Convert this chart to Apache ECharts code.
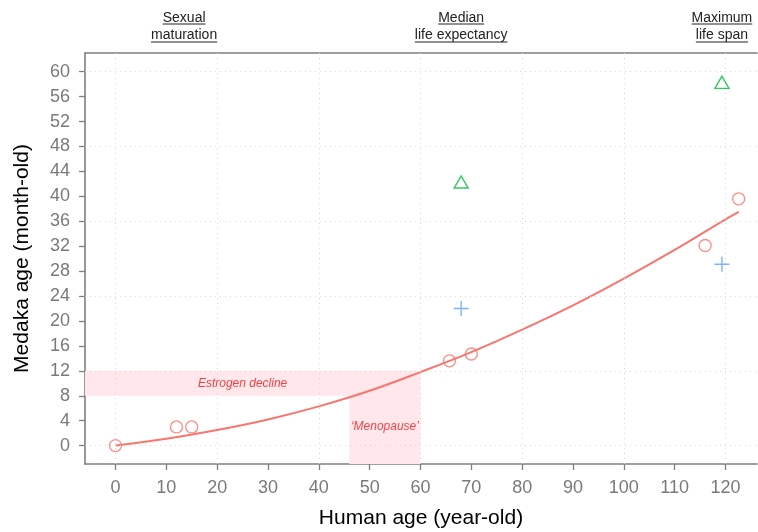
<!DOCTYPE html>
<html>
<head>
<meta charset="utf-8">
<script src="https://cdn.jsdelivr.net/npm/echarts@6/dist/echarts.min.js"></script>
<style>
html,body{margin:0;padding:0;background:#fff;}
#chart{width:758px;height:532px;}
</style>
</head>
<body>
<div id="chart"></div>
<script>
// ---- data ----
const X_MIN = -6, X_MAX = 126.2;
const Y_MIN = -2.95, Y_MAX = 63;
const xTickValues = [0, 10, 20, 30, 40, 50, 60, 70, 80, 90, 100, 110, 120];
const yTickValues = [0, 4, 8, 12, 16, 20, 24, 28, 32, 36, 40, 44, 48, 52, 56, 60];
const xGridValues = [0, 20, 40, 60, 80, 100, 120];
const yGridValues = [0, 12, 24, 36, 48, 60];

const circleX = [0, 12, 15, 65.7, 70, 116, 122.6];
const circleY = [0, 3, 3, 13.6, 14.7, 32.1, 39.6];
const triangleX = [68, 119.3];
const triangleY = [42.3, 58.3];
const plusX = [68, 119.3];
const plusY = [22, 29.1];

const curveX = [0, 10, 20, 30, 40, 50, 60, 70, 80, 90, 100, 110, 120, 122.6];
const curveY = [0, 1.1, 2.5, 4.2, 6.3, 8.8, 11.8, 15.0, 18.6, 22.5, 26.8, 31.4, 36.3, 37.5];

const estrogenBandY = [8, 12];
const estrogenBandXEnd = 60;
const menopauseBandX = [46, 60];
const menopauseBandYEnd = 8;

const noteX = [25, 53];
const noteY = [10, 3];
const noteText = ['Estrogen decline', '\u2018Menopause\u2019'];

const topX = [13.5, 68, 119.3];
const topLine1 = ['Sexual', 'Median', 'Maximum'];
const topLine2 = ['maturation', 'life expectancy', 'life span'];

// ---- helpers ----
const FONT = '"Liberation Sans", Arial, Helvetica, sans-serif';
const TOP_FONT = '14px ' + FONT;
const mctx = document.createElement('canvas').getContext('2d');
function textWidth(t, f) { mctx.font = f; return mctx.measureText(t).width; }
function zip(a, b) { return a.map((v, i) => [v, b[i]]); }

const RED = '#F8766D', GREEN = '#00BA38', BLUE = '#619CFF';
const AXIS_GRAY = '#7f7f7f', LABEL_GRAY = '#7a7a7a', GRID_GRAY = '#d6d6d6';
const BAND = '#FFE7EC';

const chart = echarts.init(document.getElementById('chart'), null, {renderer: 'canvas'});

const gridLines = [];
xGridValues.forEach(v => gridLines.push({xAxis: v}));
yGridValues.forEach(v => gridLines.push({yAxis: v}));

const option = {
  animation: false,
  backgroundColor: '#ffffff',
  grid: {left: 85, right: 1, top: 53, bottom: 68, containLabel: false, outerBoundsMode: 'none'},
  xAxis: [{
    type: 'value', min: X_MIN, max: X_MAX,
    name: 'Human age (year-old)', nameLocation: 'middle', nameGap: 44,
    nameTextStyle: {fontFamily: FONT, fontSize: 21, color: '#000'},
    axisLine: {show: true, onZero: false, lineStyle: {color: AXIS_GRAY, width: 1.6}},
    axisTick: {show: true, length: 6, customValues: xTickValues, lineStyle: {color: AXIS_GRAY, width: 1.3}},
    axisLabel: {show: true, customValues: xTickValues, margin: 15, fontFamily: FONT, fontSize: 18, color: LABEL_GRAY},
    splitLine: {show: false}
  }, {
    type: 'value', min: X_MIN, max: X_MAX, position: 'top',
    axisLine: {show: true, onZero: false, lineStyle: {color: AXIS_GRAY, width: 1.6}},
    axisTick: {show: false}, axisLabel: {show: false}, splitLine: {show: false}
  }],
  yAxis: [{
    type: 'value', min: Y_MIN, max: Y_MAX,
    name: 'Medaka age (month-old)', nameLocation: 'middle', nameGap: 52,
    nameTextStyle: {fontFamily: FONT, fontSize: 21, color: '#000'},
    axisLine: {show: true, onZero: false, lineStyle: {color: AXIS_GRAY, width: 1.6}},
    axisTick: {show: true, length: 6, customValues: yTickValues, lineStyle: {color: AXIS_GRAY, width: 1.3}},
    axisLabel: {show: true, customValues: yTickValues, margin: 15, fontFamily: FONT, fontSize: 18, color: LABEL_GRAY},
    splitLine: {show: false}
  }],
  series: [
    {
      type: 'line', name: 'bands', data: [], silent: true, z: 1,
      markArea: {
        silent: true,
        itemStyle: {color: BAND},
        data: [
          [{xAxis: X_MIN, yAxis: estrogenBandY[0]}, {xAxis: estrogenBandXEnd, yAxis: estrogenBandY[1]}],
          [{xAxis: menopauseBandX[0], yAxis: Y_MIN}, {xAxis: menopauseBandX[1], yAxis: menopauseBandYEnd}]
        ]
      },
      markLine: {
        silent: true, symbol: 'none', animation: false,
        label: {show: false},
        lineStyle: {color: GRID_GRAY, width: 1, type: [1, 4]},
        emphasis: {disabled: true},
        data: gridLines
      }
    },
    {
      type: 'line', name: 'fit', data: zip(curveX, curveY), smooth: 0.4,
      showSymbol: false, symbol: 'none', z: 3,
      lineStyle: {color: RED, width: 2}
    },
    {
      type: 'scatter', name: 'notes', data: zip(noteX, noteY), symbolSize: 0, z: 4,
      label: {
        show: true, position: 'inside',
        formatter: p => noteText[p.dataIndex],
        fontFamily: FONT, fontSize: 12, fontStyle: 'italic', color: '#F01818'
      }
    },
    {
      type: 'scatter', name: 'circles', data: zip(circleX, circleY), symbol: 'circle', symbolSize: 12, z: 5,
      itemStyle: {color: 'rgba(0,0,0,0)', borderColor: RED, borderWidth: 1.4}
    },
    {
      type: 'scatter', name: 'triangles', data: zip(triangleX, triangleY), symbol: 'triangle', symbolSize: [14, 12], z: 5,
      itemStyle: {color: 'rgba(0,0,0,0)', borderColor: GREEN, borderWidth: 1.4}
    },
    {
      type: 'scatter', name: 'plus', data: zip(plusX, plusY), symbol: 'path://M0,-1L0,1M-1,0L1,0', symbolSize: 15, z: 5,
      itemStyle: {color: 'rgba(0,0,0,0)', borderColor: BLUE, borderWidth: 1.4}
    },
    {
      type: 'custom', name: 'topLabels', data: topX.map(v => [v]), clip: false, silent: true, z: 6,
      renderItem: function (params, api) {
        const p = api.coord([api.value(0), Y_MAX]);
        const i = params.dataIndex;
        const l1 = topLine1[i], l2 = topLine2[i];
        const w1 = textWidth(l1, TOP_FONT), w2 = textWidth(l2, TOP_FONT);
        const col = '#222222';
        return {
          type: 'group',
          children: [
            {type: 'text', style: {text: l1, x: p[0], y: p[1] - 35, align: 'center', verticalAlign: 'middle', font: TOP_FONT, fill: col}},
            {type: 'line', shape: {x1: p[0] - w1 / 2, y1: p[1] - 29, x2: p[0] + w1 / 2, y2: p[1] - 29}, style: {stroke: col, lineWidth: 1}},
            {type: 'text', style: {text: l2, x: p[0], y: p[1] - 17.5, align: 'center', verticalAlign: 'middle', font: TOP_FONT, fill: col}},
            {type: 'line', shape: {x1: p[0] - w2 / 2, y1: p[1] - 11, x2: p[0] + w2 / 2, y2: p[1] - 11}, style: {stroke: col, lineWidth: 1}}
          ]
        };
      }
    }
  ]
};
chart.setOption(option);
</script>
</body>
</html>
